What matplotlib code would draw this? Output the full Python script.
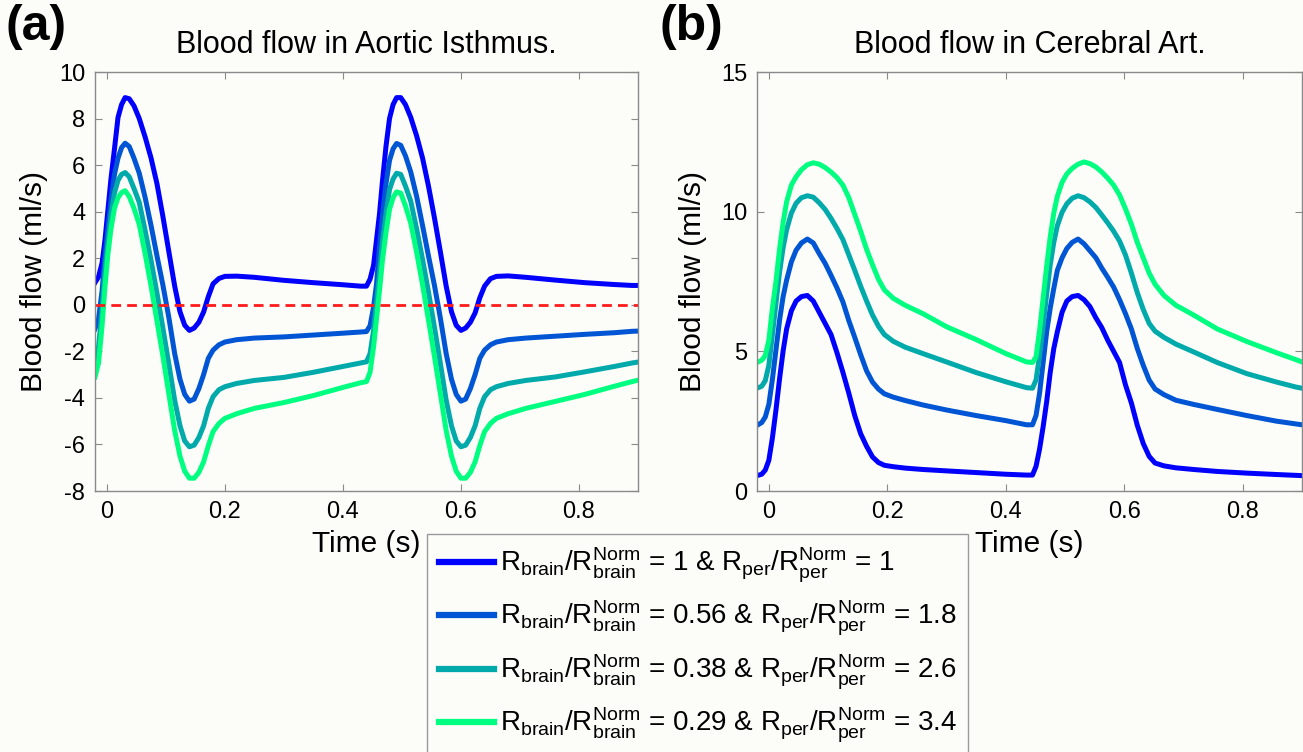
import matplotlib
matplotlib.use("Agg")
import matplotlib.pyplot as plt
import numpy as np

plt.rcParams['font.family'] = ['Liberation Sans', 'DejaVu Sans']
plt.rcParams['mathtext.fontset'] = 'custom'
plt.rcParams['mathtext.rm'] = 'Liberation Sans'
plt.rcParams['mathtext.it'] = 'Liberation Sans'
plt.rcParams['mathtext.default'] = 'regular'
plt.rcParams['axes.unicode_minus'] = False

############################################################################################################
# data
############################################################################################################

# panel (a): aortic isthmus
time_a = [-0.02, -0.014, -0.008, -0.003, 0.002, 0.007, 0.013, 0.019, 0.025, 0.031, 0.038, 0.046, 0.055,
          0.065, 0.075, 0.085, 0.095, 0.105, 0.115, 0.124, 0.132, 0.140, 0.148, 0.156, 0.164, 0.172, 0.180,
          0.190, 0.200, 0.220, 0.250, 0.300, 0.350, 0.400, 0.430, 0.440,
          0.446, 0.452, 0.457, 0.462, 0.467, 0.473, 0.479, 0.485, 0.491, 0.498, 0.506, 0.515, 0.525,
          0.535, 0.545, 0.555, 0.565, 0.575, 0.584, 0.592, 0.600, 0.608, 0.616, 0.624, 0.632, 0.640,
          0.650, 0.660, 0.680, 0.710, 0.760, 0.810, 0.860, 0.890, 0.900]

isthmus_1 = [0.95, 1.2, 1.8, 2.8, 4.1, 5.4, 6.7, 8.05, 8.6, 8.9, 8.85, 8.55, 8.0,
             7.2, 6.3, 5.2, 3.8, 2.3, 0.8, -0.3, -0.88, -1.1, -1.0, -0.75, -0.31, 0.35, 0.9,
             1.13, 1.22, 1.23, 1.18, 1.05, 0.95, 0.86, 0.8, 0.8,
             1.1, 1.7, 2.8, 3.9, 5.3, 6.8, 8.0, 8.6, 8.9, 8.9, 8.6, 8.05, 7.25,
             6.3, 5.1, 3.75, 2.3, 0.8, -0.3, -0.88, -1.1, -1.0, -0.75, -0.35, 0.3, 0.8,
             1.12, 1.22, 1.24, 1.18, 1.06, 0.95, 0.87, 0.83, 0.83]

isthmus_2 = [-1.03, -0.6, 0.6, 2.1, 3.3, 4.45, 5.6, 6.3, 6.75, 6.94, 6.8, 6.3, 5.65,
             4.6, 3.4, 2.1, 0.85, -0.53, -2.1, -3.2, -3.85, -4.14, -4.05, -3.6, -3.0, -2.3, -1.95,
             -1.72, -1.6, -1.5, -1.43, -1.38, -1.3, -1.22, -1.17, -1.15,
             -0.9, -0.1, 0.9, 2.5, 3.8, 5.2, 6.2, 6.7, 6.93, 6.85, 6.4, 5.7, 4.65,
             3.4, 2.1, 0.85, -0.55, -2.1, -3.2, -3.85, -4.14, -4.05, -3.6, -3.0, -2.3, -1.95,
             -1.72, -1.6, -1.5, -1.43, -1.35, -1.27, -1.2, -1.14, -1.13]

isthmus_3 = [-2.31, -1.8, -0.2, 1.5, 2.7, 3.85, 4.8, 5.35, 5.6, 5.68, 5.5, 5.0, 4.4,
             3.18, 1.9, 0.5, -1.0, -2.53, -4.1, -5.2, -5.85, -6.1, -6.03, -5.7, -5.2, -4.45, -3.95,
             -3.65, -3.52, -3.38, -3.25, -3.12, -2.9, -2.65, -2.5, -2.45,
             -2.1, -1.1, 0.1, 1.33, 2.7, 3.9, 4.95, 5.4, 5.65, 5.6, 5.1, 4.45, 3.25,
             1.95, 0.55, -0.95, -2.5, -4.1, -5.2, -5.85, -6.1, -6.03, -5.7, -5.2, -4.45, -3.95,
             -3.65, -3.52, -3.38, -3.25, -3.1, -2.88, -2.65, -2.5, -2.46]

isthmus_4 = [-3.1, -2.5, -0.9, 0.8, 2.2, 3.25, 4.15, 4.6, 4.82, 4.9, 4.65, 4.15, 3.45,
             2.18, 0.8, -0.7, -2.2, -3.81, -5.4, -6.5, -7.15, -7.45, -7.45, -7.2, -6.75, -6.05, -5.45,
             -5.1, -4.88, -4.68, -4.45, -4.2, -3.9, -3.55, -3.35, -3.3,
             -2.9, -1.8, -0.6, 0.6, 1.9, 3.1, 4.1, 4.6, 4.85, 4.8, 4.25, 3.5, 2.25,
             0.85, -0.65, -2.2, -3.8, -5.4, -6.5, -7.15, -7.45, -7.45, -7.2, -6.75, -6.05, -5.45,
             -5.1, -4.88, -4.68, -4.45, -4.15, -3.85, -3.5, -3.3, -3.24]

# panel (b): cerebral artery
time_b = [-0.02, -0.012, -0.006, 0.0, 0.006, 0.012, 0.018, 0.024, 0.03, 0.038, 0.046, 0.055, 0.065,
          0.075, 0.085, 0.095, 0.105, 0.115, 0.125, 0.135, 0.145, 0.155, 0.165, 0.175, 0.185, 0.195,
          0.21, 0.23, 0.26, 0.3, 0.35, 0.4, 0.435, 0.445,
          0.451, 0.457, 0.463, 0.469, 0.475, 0.481, 0.487, 0.495, 0.503, 0.512, 0.522, 0.532, 0.542,
          0.552, 0.562, 0.572, 0.582, 0.592, 0.602, 0.612, 0.622, 0.632, 0.642, 0.652, 0.667, 0.687,
          0.717, 0.757, 0.807, 0.857, 0.89, 0.9]

cerebral_1 = [0.55, 0.6, 0.75, 1.1, 1.9, 2.9, 4.0, 5.0, 5.8, 6.45, 6.8, 6.96, 7.0,
              6.8, 6.4, 6.0, 5.6, 4.95, 4.25, 3.5, 2.7, 2.05, 1.6, 1.22, 1.02, 0.92,
              0.87, 0.82, 0.77, 0.72, 0.66, 0.6, 0.57, 0.57,
              0.88, 1.5, 2.3, 3.2, 4.25, 5.1, 5.7, 6.4, 6.8, 6.96, 7.0, 6.85, 6.6,
              6.2, 5.85, 5.4, 5.0, 4.6, 3.8, 3.15, 2.35, 1.7, 1.24, 1.0, 0.9, 0.83,
              0.77, 0.7, 0.64, 0.59, 0.56, 0.55]

cerebral_2 = [2.35, 2.45, 2.65, 3.1, 4.0, 5.05, 6.1, 6.95, 7.55, 8.2, 8.62, 8.88, 9.02,
              8.88, 8.5, 8.15, 7.72, 7.27, 6.77, 6.1, 5.5, 4.88, 4.3, 3.9, 3.65, 3.48,
              3.36, 3.24, 3.08, 2.9, 2.7, 2.52, 2.37, 2.37,
              2.7, 3.5, 4.6, 5.7, 6.55, 7.25, 7.9, 8.35, 8.68, 8.9, 9.02, 8.85, 8.6,
              8.35, 7.98, 7.65, 7.3, 6.85, 6.35, 5.8, 5.1, 4.5, 3.97, 3.65, 3.45, 3.25,
              3.1, 2.92, 2.7, 2.5, 2.4, 2.37]

cerebral_3 = [3.68, 3.75, 3.95, 4.5, 5.6, 6.72, 7.82, 8.7, 9.35, 9.95, 10.3, 10.5, 10.57,
              10.52, 10.32, 10.08, 9.76, 9.4, 9.0, 8.45, 7.9, 7.33, 6.8, 6.3, 5.9, 5.6,
              5.36, 5.15, 4.92, 4.62, 4.24, 3.91, 3.7, 3.68,
              3.97, 4.85, 5.9, 7.05, 8.1, 8.9, 9.5, 9.98, 10.28, 10.48, 10.57, 10.5, 10.35,
              10.15, 9.88, 9.6, 9.3, 8.95, 8.45, 7.8, 7.1, 6.5, 6.0, 5.72, 5.5, 5.26,
              4.98, 4.6, 4.2, 3.9, 3.72, 3.68]

cerebral_4 = [4.6, 4.68, 4.85, 5.4, 6.55, 7.5, 8.65, 9.6, 10.35, 10.95, 11.25, 11.5, 11.68,
              11.75, 11.7, 11.58, 11.42, 11.22, 10.95, 10.5, 9.9, 9.3, 8.65, 8.1, 7.58, 7.2,
              6.9, 6.65, 6.35, 5.88, 5.42, 4.92, 4.62, 4.6,
              4.8, 5.75, 6.9, 8.05, 9.1, 9.95, 10.55, 11.05, 11.35, 11.55, 11.7, 11.78, 11.72,
              11.6, 11.42, 11.2, 10.95, 10.6, 10.1, 9.55, 8.9, 8.35, 7.8, 7.4, 7.0, 6.65,
              6.3, 5.8, 5.35, 4.95, 4.7, 4.62]

brain_ratio = ['1', '0.56', '0.38', '0.29']
per_ratio = ['1', '1.8', '2.6', '3.4']

# MATLAB "winter" colormap, 4 levels
line_colors = ['#0000ff', '#0055d4', '#00aaaa', '#00ff80']

############################################################################################################

legend_labels = ['$R_{brain}$/$R_{brain}^{Norm}$ = %s & $R_{per}$/$R_{per}^{Norm}$ = %s' % (b, p)
                 for b, p in zip(brain_ratio, per_ratio)]


def style_axes(ax, yticks):
    ax.set_facecolor('#fcfcf9')
    for s in ax.spines.values():
        s.set_color('#8a8a8a')
        s.set_linewidth(1.0)
    ax.tick_params(direction='in', top=True, right=True, length=5, width=0.8, color='#8a8a8a',
                   labelsize=17, pad=7)
    ax.set_xlim(-0.02, 0.9)
    ax.set_xticks([0, 0.2, 0.4, 0.6, 0.8])
    ax.set_xticklabels(['0', '0.2', '0.4', '0.6', '0.8'])
    ax.set_yticks(yticks)
    ax.set_xlabel('Time (s)', fontsize=21.5, labelpad=5)


fig = plt.figure(figsize=(13.03, 7.52), dpi=100, facecolor='#fcfcf9')

ax_a = fig.add_axes([95 / 1303, 1 - 491 / 752, 543 / 1303, 419 / 752])
ax_b = fig.add_axes([757 / 1303, 1 - 491 / 752, 545 / 1303, 419 / 752])

series_a = [isthmus_1, isthmus_2, isthmus_3, isthmus_4]
series_b = [cerebral_1, cerebral_2, cerebral_3, cerebral_4]

handles = []
for values, color, label in zip(series_a, line_colors, legend_labels):
    h, = ax_a.plot(time_a, values, color=color, lw=3.6, solid_joinstyle='round', label=label)
    handles.append(h)
ax_a.plot([-0.02, 0.9], [0, 0], color='#ff1a1a', lw=2.0, dashes=(3.5, 2.2))

for values, color in zip(series_b, line_colors):
    ax_b.plot(time_b, values, color=color, lw=3.6, solid_joinstyle='round')

style_axes(ax_a, [-8, -6, -4, -2, 0, 2, 4, 6, 8, 10])
ax_a.set_ylim(-8, 10)
ax_a.set_ylabel('Blood flow (ml/s)', fontsize=21.5, labelpad=8)
ax_a.set_title('Blood flow in Aortic Isthmus.', fontsize=22, pad=14)

style_axes(ax_b, [0, 5, 10, 15])
ax_b.set_ylim(0, 15)
ax_b.set_ylabel('Blood flow (ml/s)', fontsize=21.5, labelpad=10)
ax_b.set_title('Blood flow in Cerebral Art.', fontsize=22, pad=14)

fig.text(5 / 1303, 1 - 4 / 752, '(a)', fontsize=36, fontweight='bold', ha='left', va='top')
fig.text(660 / 1303, 1 - 4 / 752, '(b)', fontsize=36, fontweight='bold', ha='left', va='top')

leg = fig.legend(handles=handles, loc='upper left', bbox_to_anchor=(427 / 1303, 1 - 534 / 752),
                 bbox_transform=fig.transFigure, fontsize=20, frameon=True, fancybox=False,
                 framealpha=1, edgecolor='#9a9a9a', facecolor='#fcfcf9', handlelength=2.0,
                 handletextpad=0.2, labelspacing=0.52, borderpad=0.42, borderaxespad=0)
leg.get_frame().set_linewidth(1.0)
for line in leg.get_lines():
    line.set_linewidth(4.5)

fig.savefig('out.png', dpi=100, facecolor=fig.get_facecolor())
